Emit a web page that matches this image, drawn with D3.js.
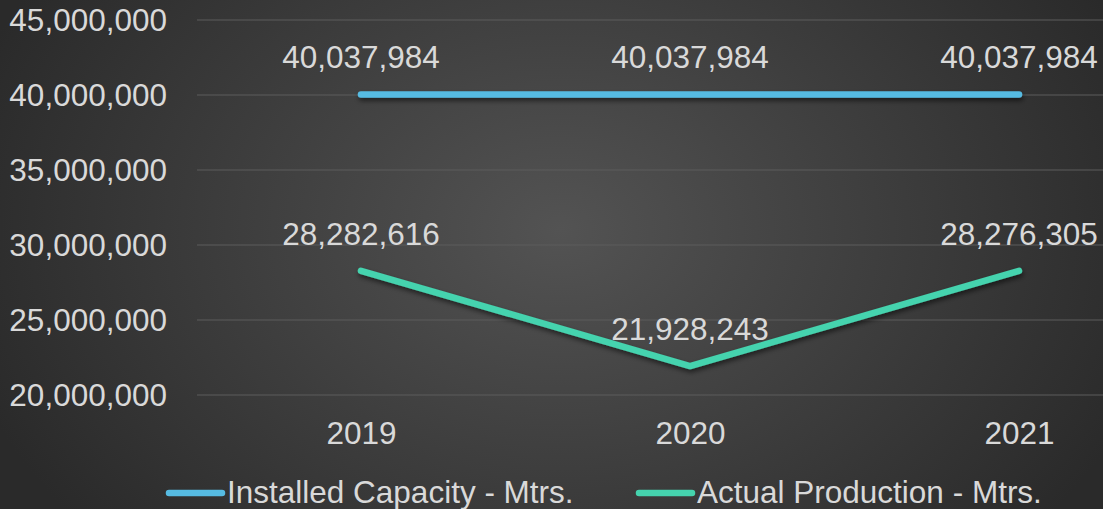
<!DOCTYPE html>
<html>
<head>
<meta charset="utf-8">
<script src="https://cdn.jsdelivr.net/npm/d3@7/dist/d3.min.js"></script>
<style>
  html, body { margin: 0; padding: 0; background: #2b2b2b; }
  svg { display: block; }
  text { font-family: "Liberation Sans", Arial, sans-serif; fill: #d9d9d9; }
</style>
</head>
<body>
<svg id="chart" width="1103" height="509"></svg>
<script>
// Capacity vs production, metres per year
const years = ["2019", "2020", "2021"];
const installedCapacity = [40037984, 40037984, 40037984];
const actualProduction = [28282616, 21928243, 28276305];
const yTicks = [20000000, 25000000, 30000000, 35000000, 40000000, 45000000];
const seriesNames = ["Installed Capacity - Mtrs.", "Actual Production - Mtrs."];
const seriesColors = ["#56bbe2", "#45d3ae"];

const W = 1103, H = 509;
const FS = 31.5;
const svg = d3.select("#chart");
const defs = svg.append("defs");

// Dark backdrop with a soft radial glow in the middle
const grad = defs.append("radialGradient")
  .attr("id", "bg").attr("gradientUnits", "userSpaceOnUse")
  .attr("cx", 560).attr("cy", 230).attr("r", 620)
  .attr("gradientTransform", "translate(560,230) scale(1,0.75) translate(-560,-230)");
grad.append("stop").attr("offset", "0%").attr("stop-color", "#535353");
grad.append("stop").attr("offset", "100%").attr("stop-color", "#2a2a2a");
svg.append("rect").attr("width", W).attr("height", H).attr("fill", "url(#bg)");

// Drop shadow under the series lines (user-space region so flat lines keep it)
const shadow = defs.append("filter").attr("id", "shadow")
  .attr("filterUnits", "userSpaceOnUse")
  .attr("x", 0).attr("y", 0).attr("width", W).attr("height", H);
shadow.append("feDropShadow").attr("dx", 1).attr("dy", 3).attr("stdDeviation", 2.5)
  .attr("flood-color", "#000").attr("flood-opacity", 0.55);

const plotLeft = 197, plotRight = W;
const x = d3.scalePoint().domain(years).range([361, 1019]);
const y = d3.scaleLinear().domain([20000000, 45000000]).range([395, 20]);
const fmt = d3.format(",");

// Gridlines
svg.append("g").selectAll("line").data(yTicks).join("line")
  .attr("x1", plotLeft).attr("x2", plotRight)
  .attr("y1", d => y(d)).attr("y2", d => y(d))
  .attr("stroke", "#5c5c5c").attr("stroke-width", 1.2);

// Y axis labels
const yAxis = d3.axisLeft(y).tickValues(yTicks).tickFormat(fmt).tickSize(0).tickPadding(0);
const gy = svg.append("g").attr("transform", "translate(167,0)").call(yAxis);
gy.select(".domain").remove();
gy.selectAll("text").attr("font-size", FS).attr("fill", "#d9d9d9")
  .style("font-family", "'Liberation Sans', Arial, sans-serif");

// X axis labels
const xAxis = d3.axisBottom(x).tickSize(0).tickPadding(0);
const gx = svg.append("g").attr("transform", "translate(0,444)").call(xAxis);
gx.select(".domain").remove();
gx.selectAll("text").attr("font-size", FS).attr("fill", "#d9d9d9")
  .attr("y", 0).attr("dy", 0)
  .style("font-family", "'Liberation Sans', Arial, sans-serif");

// Lines
const line = d3.line().x((d, i) => x(years[i])).y(d => y(d));
const series = [installedCapacity, actualProduction];
series.forEach((vals, k) => {
  svg.append("path").datum(vals)
    .attr("d", line)
    .attr("fill", "none")
    .attr("stroke", seriesColors[k])
    .attr("stroke-width", 6.5)
    .attr("stroke-linecap", "round")
    .attr("stroke-linejoin", "round")
    .attr("filter", "url(#shadow)");
});

// Value labels above each point
series.forEach(vals => {
  svg.append("g").selectAll("text").data(vals).join("text")
    .attr("x", (d, i) => x(years[i]))
    .attr("y", d => y(d) - 26)
    .attr("text-anchor", "middle")
    .attr("font-size", FS)
    .text(d => fmt(d));
});

// Legend
const legendItems = [
  { name: seriesNames[0], color: seriesColors[0], x0: 167 },
  { name: seriesNames[1], color: seriesColors[1], x0: 637 }
];
const lg = svg.append("g");
legendItems.forEach(it => {
  lg.append("line")
    .attr("x1", it.x0 + 2).attr("x2", it.x0 + 55)
    .attr("y1", 493).attr("y2", 493)
    .attr("stroke", it.color).attr("stroke-width", 6.5)
    .attr("stroke-linecap", "round");
  lg.append("text")
    .attr("x", it.x0 + 60).attr("y", 503)
    .attr("font-size", FS)
    .text(it.name);
});
</script>
</body>
</html>
